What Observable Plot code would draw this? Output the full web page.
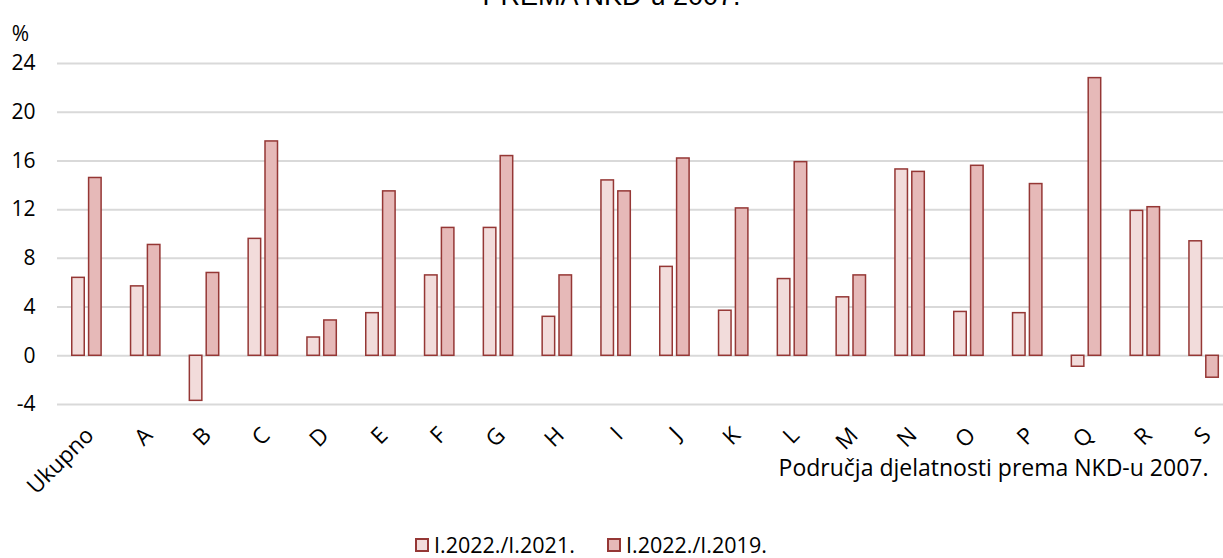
<!DOCTYPE html>
<html>
<head>
<meta charset="utf-8">
<script src="https://cdn.jsdelivr.net/npm/d3@7"></script>
<script src="https://cdn.jsdelivr.net/npm/@observablehq/plot@0.6"></script>
<style>
  html, body { margin: 0; padding: 0; background: #fff; }
  body { width: 1223px; height: 558px; overflow: hidden; position: relative; font-family: "Open Sans", sans-serif; color: #000; }
  #title { position: absolute; z-index: 2; top: -19px; left: 0; width: 1223px; text-align: center; font-family: "Liberation Sans", Arial, sans-serif; font-size: 27px; line-height: normal; white-space: nowrap; }
  #chart { position: absolute; z-index: 1; top: 0; left: 0; }
  #legend { position: absolute; z-index: 2; top: 530px; left: 0; width: 1223px; height: 30px; font-size: 21.5px; }
  #legend .item { position: absolute; top: 0; height: 30px; line-height: 30px; display: flex; align-items: center; white-space: nowrap; }
  #legend .sw { width: 10px; height: 10px; border: 2px solid #953735; margin-right: 5px; }
</style>
</head>
<body>
<div id="chart"></div>
<div id="title">PREMA NKD-u 2007.</div>
<div id="legend"></div>
<script>
const categories = ["Ukupno","A","B","C","D","E","F","G","H","I","J","K","L","M","N","O","P","Q","R","S"];
const seriesNames = ["I.2022./I.2021.","I.2022./I.2019."];
const values2021 = [6.4, 5.7, -3.7, 9.6, 1.5, 3.5, 6.6, 10.5, 3.2, 14.4, 7.3, 3.7, 6.3, 4.8, 15.3, 3.6, 3.5, -0.9, 11.9, 9.4];
const values2019 = [14.6, 9.1, 6.8, 17.6, 2.9, 13.5, 10.5, 16.4, 6.6, 13.5, 16.2, 12.1, 15.9, 6.6, 15.1, 15.6, 14.1, 22.8, 12.2, -1.8];
const yTicks = [-4, 0, 4, 8, 12, 16, 20, 24];
const seriesColors = ["#f2dcdb", "#e6b9b8"];
const xTitle = "Područja djelatnosti prema NKD-u 2007.";
const yUnit = "%";

const rows1 = categories.map((c, i) => ({cat: c, series: seriesNames[0], v: values2021[i]}));
const rows2 = categories.map((c, i) => ({cat: c, series: seriesNames[1], v: values2019[i]}));

const chart = Plot.plot({
  width: 1223,
  height: 525,
  marginLeft: 57,
  marginRight: 0,
  marginTop: 63,
  marginBottom: 121,
  style: {fontFamily: "'Open Sans', sans-serif", fontSize: "21px", color: "#000", background: "transparent"},
  x: {domain: categories, range: [57, 1233], padding: 0, round: false},
  y: {domain: [-4, 24]},
  color: {domain: seriesNames, range: seriesColors},
  marks: [
    Plot.ruleY(yTicks, {stroke: "#d9d9d9", strokeWidth: 2}),
    Plot.barY(rows1, {x: "cat", y: "v", fill: "series", stroke: "#953735", strokeWidth: 1.5, insetLeft: 14.75, insetRight: 31.55}),
    Plot.barY(rows2, {x: "cat", y: "v", fill: "series", stroke: "#953735", strokeWidth: 1.5, insetLeft: 31.6, insetRight: 14.7}),
    Plot.axisY({ticks: yTicks, tickFormat: d => String(d), tickSize: 0, tickPadding: 22, label: null, fontSize: 21, fill: "#000"}),
    Plot.axisX({tickSize: 0, tickRotate: -45, tickPadding: 27, dx: 3, label: null, fontSize: 22.5, fill: "#000"}),
    Plot.text([xTitle], {frameAnchor: "bottom-right", dx: -15, dy: 71.6, textAnchor: "end", fontSize: 23, fill: "#000"}),
    Plot.text([yUnit], {frameAnchor: "top-left", dx: -37, dy: -37, textAnchor: "middle", fontSize: 21, fill: "#000"})
  ]
});
document.getElementById("chart").appendChild(chart);

const legend = document.getElementById("legend");
const legendLefts = [415, 607];
seriesNames.forEach((name, i) => {
  const item = document.createElement("div");
  item.className = "item";
  item.style.left = legendLefts[i] + "px";
  const sw = document.createElement("div");
  sw.className = "sw";
  sw.style.background = seriesColors[i];
  const label = document.createElement("span");
  label.textContent = name;
  item.appendChild(sw);
  item.appendChild(label);
  legend.appendChild(item);
});
</script>
</body>
</html>
